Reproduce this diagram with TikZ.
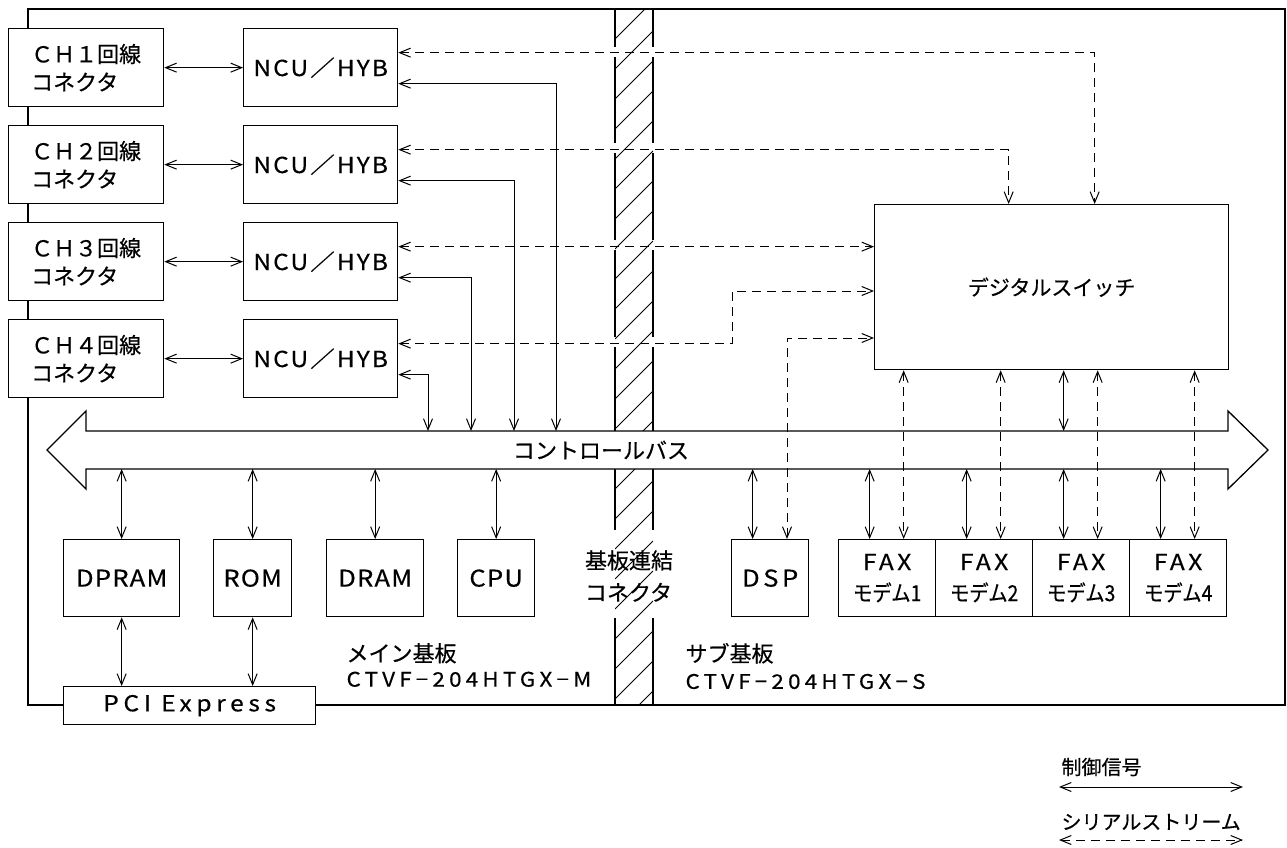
\documentclass[tikz,border=0pt]{standalone}
\usepackage{graphicx}
\usepackage{fontspec}
\setmainfont{Noto Sans CJK JP}[FakeBold=0.4]
\newfontfamily\lat[FakeStretch=1.12,LetterSpace=5,FakeBold=0.4]{Noto Sans CJK JP}
\newfontfamily\latm[FakeStretch=1.12,LetterSpace=9,FakeBold=0.4]{Noto Sans CJK JP}
\newfontfamily\latw[FakeStretch=1.12,LetterSpace=15,FakeBold=0.4]{Noto Sans CJK JP}
\newfontfamily\latww[FakeStretch=1.12,LetterSpace=21,FakeBold=0.4]{Noto Sans CJK JP}
\usetikzlibrary{arrows.meta}
\begin{document}
\begin{tikzpicture}[x=1pt,y=-1pt,
  frm/.style={line width=2pt},
  box/.style={draw, fill=white, line width=1.3pt, inner sep=0pt, anchor=north west},
  ctrl/.style={line width=1pt, {Straight Barb[length=11pt,width=9pt]}-{Straight Barb[length=11pt,width=9pt]}},
  ser/.style={ctrl, dash pattern=on 9pt off 6pt},
  txt/.style={font=\fontsize{22}{28}\selectfont},
  btxt/.style={font=\fontsize{23}{28}\selectfont\lat},
  stxt/.style={font=\fontsize{20}{26}\selectfont}
]
\useasboundingbox (0,0) rectangle (1287,848);
% outer frame
\draw[frm] (63,705) -- (28,705) -- (28,9) -- (1285,9) -- (1285,705) -- (315,705);
% hatched connector strip
\begin{scope}
\clip (615,9) rectangle (653,705);
\foreach \k in {0,...,25} \draw[line width=0.8pt] (615,{9+30*\k}) -- (653,{9+30*\k-38});
\end{scope}
\foreach \a/\b in {9/47,57/143,153/240,250/337,347/431,469/530,618/705} {
  \draw[frm] (615,\a) -- (615,\b);
  \draw[frm] (653,\a) -- (653,\b);
}
% control bus
\draw[line width=1.3pt, fill=white] (86,431) -- (1228,431) -- (1228,411) -- (1268,450) -- (1228,489) -- (1228,469) -- (86,469) -- (86,489) -- (47,450) -- (86,411) -- cycle;
\node[txt] (busl) at (601,450) {コントロールバス};
\coordinate (busT) at (0,431);
\coordinate (busB) at (0,469);
% line connectors and NCU
\foreach \i/\y/\t in {1/28/１,2/125/２,3/222/３,4/319/４} {
  \node[box, txt, minimum width=155pt, minimum height=78pt, align=left] (ch\i) at (8,\y) {ＣＨ\t 回線\\コネクタ};
  \node[box, txt, minimum width=154pt, minimum height=78pt] (n\i) at (243,\y) {\latm NCU／HYB};
  \draw[ctrl] (ch\i.east) -- (n\i.west);
}
% digital switch
\node[box, font=\fontsize{21}{26}\selectfont, minimum width=354pt, minimum height=165pt] (sw) at (874,204) {デジタルスイッチ};
% main board boxes
\node[box, btxt, minimum width=116pt, minimum height=77pt] (dpram) at (63,539) {DPRAM};
\node[box, btxt, minimum width=78pt, minimum height=77pt] (rom) at (213,539) {ROM};
\node[box, btxt, minimum width=97pt, minimum height=77pt] (dram) at (326,539) {DRAM};
\node[box, btxt, minimum width=77pt, minimum height=77pt] (cpu) at (457,539) {CPU};
\node[box, txt, minimum width=252pt, minimum height=38pt] (pci) at (63,686) {\latww PCI Express};
% sub board boxes
\node[box, btxt, minimum width=77pt, minimum height=77pt] (dsp) at (731,539) {\latw DSP};
\foreach \i in {1,...,4} {
  \node[box, font=\fontsize{22}{31}\selectfont, minimum width=97pt, minimum height=77pt, align=center] (f\i) at ({838+97*(\i-1)},539) {{\latw FAX}\\\scalebox{0.88}[1]{モデム\i}};
}
% connector labels
\node[align=left, font=\fontsize{22}{32}\selectfont] (conn) at (629,576) {基板連結\\コネクタ};
\node[align=left, anchor=west, font=\fontsize{22}{25}\selectfont] (mainl) at (343,665) {メイン基板\\{\fontsize{20}{25}\selectfont\latww CTVF−204HTGX−M}};
\node[align=left, anchor=west, font=\fontsize{22}{27}\selectfont] (subl) at (682,666) {サブ基板\\{\fontsize{20}{27}\selectfont\latww CTVF−204HTGX−S}};
% NCU control lines to bus
\coordinate (c1) at (556,431);
\coordinate (c2) at (514,431);
\coordinate (c3) at (471,431);
\coordinate (c4) at (428,431);
\foreach \i in {1,...,4} \draw[ctrl] ([yshift=-16pt]n\i.east) -| (c\i);
% serial streams
\foreach \i in {1,...,4} \coordinate (nd\i) at ([yshift=15pt]n\i.east);
\draw[ser] (nd1) -| ([xshift=43pt]sw.north);
\draw[ser] (nd2) -| ([xshift=-43pt]sw.north);
\draw[ser] (nd3) -- (nd3 -| sw.west);
\coordinate (k4) at (732,291);
\draw[ser] (nd4) -| (k4) -- (k4 -| sw.west);
\coordinate (k5) at (787,338);
\draw[ser] (k5 |- dsp.north) -- (k5) -- (k5 -| sw.west);
\foreach \i in {1,...,4} {
  \coordinate (fd\i) at ([xshift=16.5pt]f\i.north);
  \coordinate (fc\i) at ([xshift=-17.5pt]f\i.north);
  \draw[ser] (fd\i |- sw.south) -- (fd\i);
  \draw[ctrl] (fc\i |- busB) -- (fc\i);
}
\draw[ctrl] (fc3 |- sw.south) -- (fc3 |- busT);
\coordinate (dc) at ([xshift=-17.5pt]dsp.north);
\draw[ctrl] (dc |- busB) -- (dc);
\foreach \b in {dpram,rom,dram,cpu} \draw[ctrl] (\b.north |- busB) -- (\b.north);
\draw[ctrl] (dpram.south) -- (dpram.south |- pci.north);
\draw[ctrl] (rom.south) -- (rom.south |- pci.north);
% legend
\node[stxt, anchor=west] (lg1) at (1058,767) {制御信号};
\node[stxt, anchor=west] (lg2) at (1058,822) {シリアルストリーム};
\coordinate (la) at (1059,787);
\coordinate (lb) at (1243,787);
\coordinate (lc) at (1059,840);
\coordinate (ld) at (1243,840);
\draw[ctrl] (la) -- (lb);
\draw[ser] (lc) -- (ld);
\end{tikzpicture}
\end{document}
